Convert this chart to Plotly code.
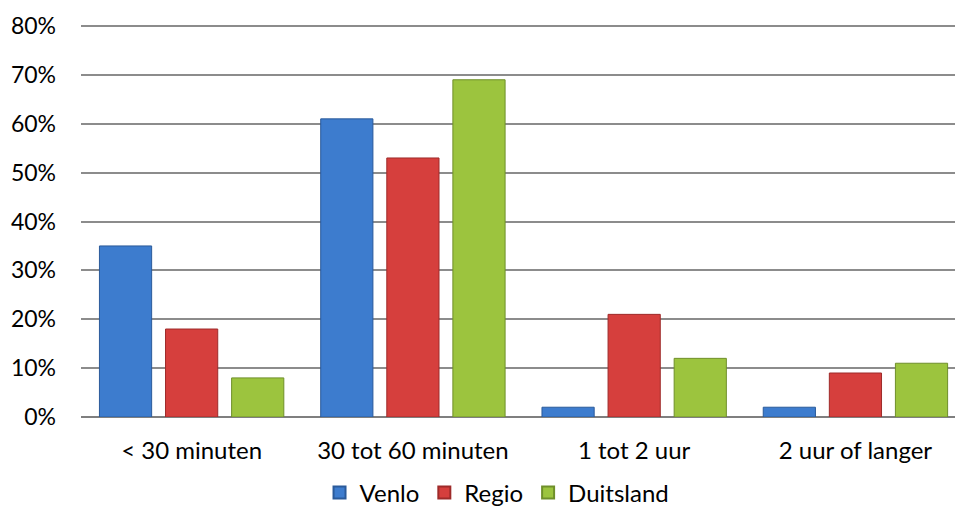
import plotly.graph_objects as go

categories = ["< 30 minuten", "30 tot 60 minuten", "1 tot 2 uur", "2 uur of langer"]
venlo = [35, 61, 2, 2]
regio = [18, 53, 21, 9]
duitsland = [8, 69, 12, 11]
y_ticks = [0, 10, 20, 30, 40, 50, 60, 70, 80]
y_tick_labels = [f"{v}%" for v in y_ticks]

series = [
    ("Venlo", venlo, "#3d7cce", "#2a5a9a"),
    ("Regio", regio, "#d63f3d", "#9e2b2a"),
    ("Duitsland", duitsland, "#9cc43e", "#6f8f2a"),
]

fig = go.Figure()
for name, vals, col, edge in series:
    fig.add_trace(go.Bar(
        x=categories, y=vals, name=name,
        marker=dict(color=col, line=dict(color=edge, width=1)),
    ))

font_family = "Lato, Carlito, Calibri, sans-serif"
fig.update_layout(
    width=955, height=517,
    margin=dict(l=81, r=0, t=24, b=100),
    paper_bgcolor="white", plot_bgcolor="white",
    barmode="group", bargap=0.104, bargroupgap=0.21,
    font=dict(family=font_family, size=23, color="#000000"),
    showlegend=True,
    legend=dict(orientation="h", x=0.476, xanchor="center", y=-0.193, yanchor="middle",
                font=dict(size=24), traceorder="normal", itemsizing="constant"),
    xaxis=dict(range=[-0.5, 3.45], showgrid=False, showline=False, ticks="",
               tickfont=dict(size=24), ticklabelstandoff=17),
    yaxis=dict(range=[0, 80.41], tickvals=y_ticks, ticktext=y_tick_labels,
               showgrid=True, gridcolor="#8c8c8c", gridwidth=1.5,
               zeroline=True, zerolinecolor="#7f7f7f", zerolinewidth=2,
               showline=False, ticks="", tickfont=dict(size=23), ticklabelstandoff=24),
)

fig.write_html("out.html")
